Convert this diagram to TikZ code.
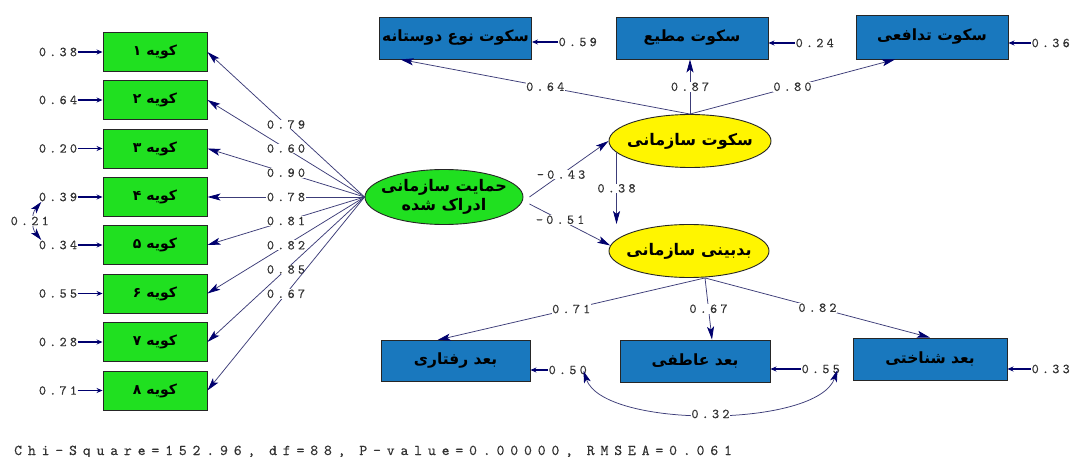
\documentclass[tikz,border=0pt]{standalone}
\usepackage{fontspec}
\usetikzlibrary{arrows.meta,shapes.geometric}
\TeXXeTstate=1
\newfontfamily\fa[Script=Arabic]{DejaVu Sans}
\newfontfamily\lisnum[LetterSpace=24,FakeBold=0.3]{lmmono10-regular.otf}
\newfontfamily\lisfoot[LetterSpace=39,FakeBold=0.3]{lmmono10-regular.otf}
\definecolor{lgreen}{RGB}{32,224,32}
\definecolor{lblue}{RGB}{25,120,190}
\definecolor{lyellow}{RGB}{255,245,0}
\definecolor{pline}{RGB}{60,60,120}
\definecolor{phead}{RGB}{0,0,110}
\definecolor{numtxt}{RGB}{50,50,50}
\begin{document}
\begin{tikzpicture}[x=1pt,y=-1pt,
  ind/.style={draw=black!85, line width=0.9pt, fill=lgreen, minimum width=104pt, minimum height=39pt, inner sep=0pt, font=\fa\bfseries\fontsize{14}{16}\selectfont},
  obs/.style={draw=black!85, line width=0.9pt, fill=lblue, minimum width=152pt, minimum height=42pt, inner sep=0pt, font=\fa\bfseries\fontsize{15.5}{17}\selectfont},
  lat/.style={ellipse, draw=black!85, line width=0.9pt, inner sep=0pt},
  lattext/.style={align=center, inner sep=0pt, font=\fa\bfseries\fontsize{16}{19}\selectfont},
  num/.style={font=\lisnum\fontsize{13.5}{14}\selectfont, text=numtxt, inner sep=0.5pt, fill=white},
  pth/.style={draw=pline, line width=0.75pt, -{Stealth[length=13pt,width=7pt,inset=3pt,color=phead]}},
  err/.style={draw=phead, line width=1.3pt, -{Stealth[length=6pt,width=5pt,color=phead]}},
  cov/.style={draw=pline, line width=0.75pt, {Stealth[length=12pt,width=7pt,inset=3pt,color=phead]}-{Stealth[length=12pt,width=7pt,inset=3pt,color=phead]}}
]
\fill[white] (0,0) rectangle (1072,457);
\useasboundingbox (0,0) rectangle (1072,457);

% indicator boxes
\node[ind] (i1) at (155,52) {\beginR کویه ۱\endR};
\node[ind] (i2) at (155,100) {\beginR کویه ۲\endR};
\node[ind] (i3) at (155,148.5) {\beginR کویه ۳\endR};
\node[ind] (i4) at (155,197) {\beginR کویه ۴\endR};
\node[ind] (i5) at (155,245) {\beginR کویه ۵\endR};
\node[ind] (i6) at (155,293.5) {\beginR کویه ۶\endR};
\node[ind] (i7) at (155,342) {\beginR کویه ۷\endR};
\node[ind] (i8) at (155,390.5) {\beginR کویه ۸\endR};

% error labels left
\node[num] (e1) at (58,52) {0.38};
\node[num] (e2) at (58,100) {0.64};
\node[num] (e3) at (58,148.5) {0.20};
\node[num] (e4) at (58,197) {0.39};
\node[num] (e5) at (58,245) {0.34};
\node[num] (e6) at (58,293.5) {0.55};
\node[num] (e7) at (58,342) {0.28};
\node[num] (e8) at (58,390.5) {0.71};
\foreach \k in {1,...,8}{\draw[err] (e\k.east) -- (e\k.east -| i\k.west);}

% latent variables
\node[lat, fill=lgreen, minimum width=158pt, minimum height=55pt,
  label={[lattext]center:{\beginR حمایت سازمانی\endR\\\beginR ادراک شده\endR}}] (g) at (444,197) {};
\node[lat, fill=lyellow, minimum width=162pt, minimum height=53pt,
  label={[lattext]center:{\beginR سکوت سازمانی\endR}}] (y1) at (690,141) {};
\node[lat, fill=lyellow, minimum width=160pt, minimum height=53pt,
  label={[lattext]center:{\beginR بدبینی سازمانی\endR}}] (y2) at (689,251) {};

% top observed
\node[obs] (a) at (455.5,38) {\beginR سکوت نوع دوستانه\endR};
\node[obs] (b) at (692,38) {\beginR سکوت مطیع\endR};
\node[obs, minimum height=44pt] (c) at (932,37) {\beginR سکوت تدافعی\endR};
% bottom observed
\node[obs, minimum width=149pt, minimum height=41pt] (d) at (455.5,361) {\beginR بعد رفتاری\endR};
\node[obs, minimum width=150pt, minimum height=42pt] (e) at (695,361) {\beginR بعد عاطفی\endR};
\node[obs, minimum width=154pt, minimum height=42pt] (f) at (930,359) {\beginR بعد شناختی\endR};

% loadings of g
\draw[pth] (g.west) -- node[num]{0.79} (i1.east);
\draw[pth] (g.west) -- node[num]{0.60} (i2.east);
\draw[pth] (g.west) -- node[num]{0.90} (i3.east);
\draw[pth] (g.west) -- node[num]{0.78} (i4.east);
\draw[pth] (g.west) -- node[num]{0.81} (i5.east);
\draw[pth] (g.west) -- node[num]{0.82} (i6.east);
\draw[pth] (g.west) -- node[num]{0.85} (i7.east);
\draw[pth] (g.west) -- node[num]{0.67} (i8.east);

% structural paths
\draw[pth] ([xshift=6pt]g.east) -- node[num,pos=0.4]{-0.43} (y1.west);
\draw[pth] ([xshift=6pt,yshift=-7pt]g.east) -- node[num,pos=0.38]{-0.51} (y2.176);
\draw[pth] (y1.189.5) -- node[num]{0.38} (y1.189.5 |- y2.north);

% loadings of silence
\draw[pth] (y1.north) -- node[num]{0.64} ([xshift=-55pt]a.south);
\draw[pth] (y1.north) -- node[num]{0.87} (y1.north |- b.south);
\draw[pth] (y1.north) -- node[num]{0.80} ([xshift=-37pt]c.south);

% loadings of cynicism
\draw[pth] ([xshift=16pt]y2.south) -- node[num]{0.71} ([xshift=-18pt]d.north);
\draw[pth] ([xshift=16pt]y2.south) -- node[num]{0.67} ([xshift=17pt]e.north);
\draw[pth] ([xshift=16pt]y2.south) -- node[num]{0.82} (f.north);

% error labels top / bottom
\node[num, anchor=west] (ea) at (558,42) {0.59};
\node[num, anchor=west] (eb) at (795,43) {0.24};
\node[num, anchor=west] (ec) at (1031,43) {0.36};
\node[num, anchor=west] (ed) at (548,370) {0.50};
\node[num, anchor=west] (ee) at (801,369) {0.55};
\node[num, anchor=west] (ef) at (1031,369) {0.33};
\draw[err] (ea.west) -- (ea.west -| a.east);
\draw[err] (eb.west) -- (eb.west -| b.east);
\draw[err] (ec.west) -- (ec.west -| c.east);
\draw[err] (ed.west) -- (ed.west -| d.east);
\draw[err] (ee.west) -- (ee.west -| e.east);
\draw[err] (ef.west) -- (ef.west -| f.east);

% error covariances
\draw[cov] ([xshift=3pt]e4.south west) .. controls +(-10,12) and +(-10,-12) .. node[num,xshift=-4pt]{0.21} ([xshift=3pt]e5.north west);
\draw[cov] ([xshift=-4pt,yshift=-1pt]ed.east) .. controls +(20,58) and +(-20,58) .. node[num]{0.32} ([xshift=-3pt,yshift=-1pt]ee.east);

% fit statistics
\node[font=\lisfoot\fontsize{15}{16}\selectfont, text=numtxt, anchor=base west, inner sep=0pt] (fit) at (14,455) {Chi-Square=152.96, df=88, P-value=0.00000, RMSEA=0.061};
\end{tikzpicture}
\end{document}
